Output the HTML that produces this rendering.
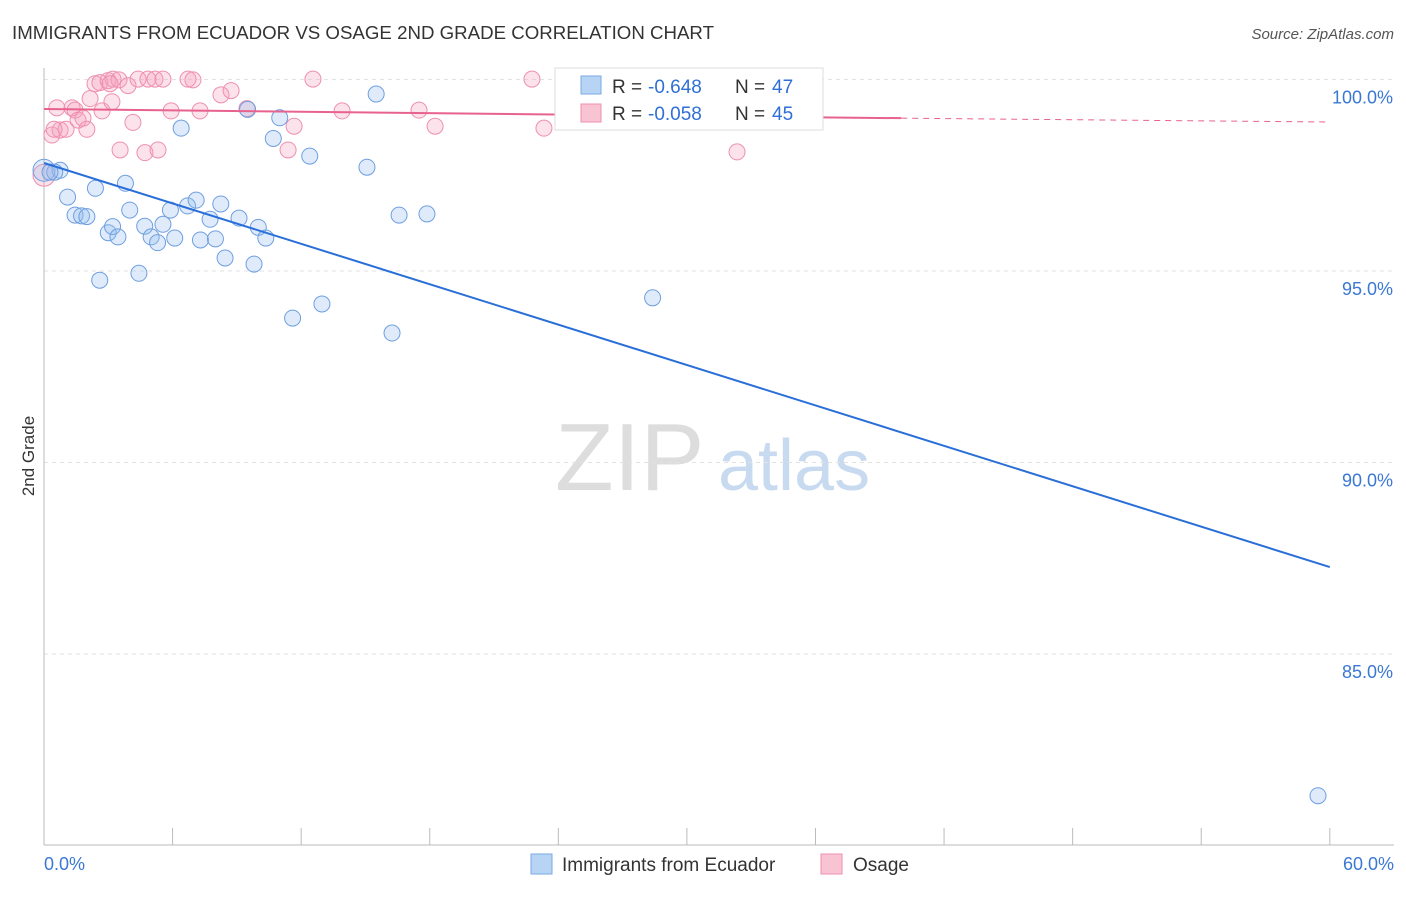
<!DOCTYPE html>
<html><head><meta charset="utf-8"><style>
body{margin:0;background:#fff;font-family:"Liberation Sans",sans-serif;}
svg text{font-family:"Liberation Sans",sans-serif;}
</style></head><body>
<svg id="chart" width="1406" height="892">
<text x="12" y="39" font-size="18" fill="#333" textLength="702" lengthAdjust="spacingAndGlyphs">IMMIGRANTS FROM ECUADOR VS OSAGE 2ND GRADE CORRELATION CHART</text>
<text x="1394" y="39" font-size="15" fill="#555" font-style="italic" text-anchor="end">Source: ZipAtlas.com</text>
<text x="34" y="456" font-size="17" fill="#333" text-anchor="middle" transform="rotate(-90 34 456)">2nd Grade</text>
<text x="555" y="490" font-size="96" fill="#ddd" font-family="Liberation Serif">ZIP</text>
<text x="718" y="490" font-size="72" fill="#c8daf0">atlas</text>
<g id="grid"></g><g id="pts"></g><g id="lines"></g>
<g>
<rect x="555" y="68" width="268" height="62" fill="#fff" stroke="#ddd"/>
<rect x="581" y="76" width="20" height="18" fill="#b8d4f4" stroke="#7aaae6"/>
<text x="612" y="93" font-size="19" fill="#333">R =</text>
<text x="648" y="93" font-size="19" fill="#2f6fd6">-0.648</text>
<text x="735" y="93" font-size="19" fill="#333">N =</text>
<text x="772" y="93" font-size="19" fill="#2f6fd6">47</text>
<rect x="581" y="104" width="20" height="18" fill="#f8c4d4" stroke="#ee90ae"/>
<text x="612" y="120" font-size="19" fill="#333">R =</text>
<text x="648" y="120" font-size="19" fill="#2f6fd6">-0.058</text>
<text x="735" y="120" font-size="19" fill="#333">N =</text>
<text x="772" y="120" font-size="19" fill="#2f6fd6">45</text>
</g>
<g>
<rect x="531" y="854" width="21" height="20" fill="#b8d4f4" stroke="#7aaae6"/>
<text x="562" y="871" font-size="19" fill="#333">Immigrants from Ecuador</text>
<rect x="821" y="854" width="21" height="20" fill="#f8c4d4" stroke="#ee90ae"/>
<text x="853" y="871" font-size="19" fill="#333">Osage</text>
</g>
</svg>
<script>
const yTicks=[100,95,90,85];
const xLabels=["0.0%","60.0%"];
const blueX=[0,0.75,0.5,1.1,2.4,3.8,1.45,1.75,2.0,3.0,3.2,3.45,4.0,4.7,5.0,5.3,5.55,5.9,6.1,6.4,6.7,7.1,7.3,7.75,8.0,8.25,8.45,9.1,9.5,9.8,10.0,10.35,10.7,11.0,11.6,12.4,12.97,15.07,15.5,16.24,16.57,17.87,28.4,59.45,2.6,4.43,0.28];
const blueY=[97.63,97.63,97.58,96.93,97.16,97.29,96.46,96.44,96.42,96.0,96.16,95.89,96.59,96.17,95.89,95.74,96.22,96.59,95.86,98.73,96.7,96.85,95.81,96.35,95.84,96.75,95.34,96.38,99.22,95.18,96.14,95.86,98.46,99.0,93.77,98.0,94.14,97.71,99.62,93.38,96.46,96.49,94.3,81.3,94.76,94.94,97.58];
const pinkX=[0,0.37,0.6,0.75,1.03,1.31,1.45,1.59,1.82,2.0,2.15,2.38,2.61,2.71,2.99,3.17,3.22,3.5,3.55,3.92,4.15,4.39,4.71,4.85,5.18,5.32,5.55,5.93,6.72,6.95,7.28,8.26,8.73,9.47,11.39,11.67,12.55,13.91,17.5,18.25,22.77,23.33,32.34,0.47,3.08];
const pinkY=[97.5,98.55,99.26,98.68,98.7,99.26,99.2,98.94,98.99,98.7,99.5,99.89,99.92,99.18,99.97,99.42,100.01,99.99,98.16,99.84,98.88,100.01,98.09,100.01,100.01,98.16,100.01,99.18,100.01,99.99,99.18,99.6,99.71,99.24,98.16,98.78,100.01,99.18,99.2,98.78,100.01,98.73,98.11,98.7,99.89];
const blueFit=[97.82,87.27];
const pinkFit=[99.23,98.99,98.89];
const NS="http://www.w3.org/2000/svg";
const sx=v=>44+v*21.43, sy=v=>79.5+(100-v)*38.3;
function mk(tag,at,parent){const e=document.createElementNS(NS,tag);for(const k in at)e.setAttribute(k,at[k]);parent.appendChild(e);return e;}
const grid=document.getElementById('grid');
yTicks.forEach(t=>{
 const l=mk('line',{x1:44,x2:1394,y1:sy(t),y2:sy(t),stroke:'#e2e2e2','stroke-dasharray':'4,4'},grid);
 
 
 const tx=mk('text',{x:1393,y:sy(t)+24,'font-size':18,fill:'#3a78d4','text-anchor':'end'},grid);
 tx.textContent=t.toFixed(1)+'%';
 
 
});
const ax=mk('line',{x1:44,x2:44,y1:68,y2:845,stroke:'#bbb'},grid);


const bx=mk('line',{x1:44,x2:1394,y1:845,y2:845,stroke:'#bbb'},grid);


for(let i=0;i<=10;i++){const t=mk('line',{x1:sx(i*6),x2:sx(i*6),y1:828,y2:845,stroke:'#bbb'},grid);
 
 }
[[0,'start',44],[1,'end',1394]].forEach(([i,a,x])=>{const t=mk('text',{x:x,y:870,'font-size':18,fill:'#3a78d4','text-anchor':a},grid);t.textContent=xLabels[i];
 
 });
const pts=document.getElementById('pts');
pinkX.forEach((x,i)=>{const c=mk('circle',{cx:sx(x),cy:sy(pinkY[i]),r:i==0?11:8,fill:'rgba(244,160,190,0.3)',stroke:'#ee90ae','stroke-width':1},pts);
 
 });
blueX.forEach((x,i)=>{const c=mk('circle',{cx:sx(x),cy:sy(blueY[i]),r:i==0?11:8,fill:'rgba(150,190,240,0.3)',stroke:'#6f9fe0','stroke-width':1},pts);
 
 });
const lines=document.getElementById('lines');
const b=mk('line',{x1:sx(0),y1:sy(blueFit[0]),x2:sx(60),y2:sy(blueFit[1]),stroke:'#2a6fd8','stroke-width':2},lines);


const p=mk('line',{x1:sx(0),y1:sy(pinkFit[0]),x2:sx(40),y2:sy(pinkFit[1]),stroke:'#e8628e','stroke-width':2},lines);


const pd=mk('line',{x1:sx(40),y1:sy(pinkFit[1]),x2:sx(60),y2:sy(pinkFit[2]),stroke:'#e8628e','stroke-width':1,'stroke-dasharray':'6,5'},lines);


</script>
</body></html>
